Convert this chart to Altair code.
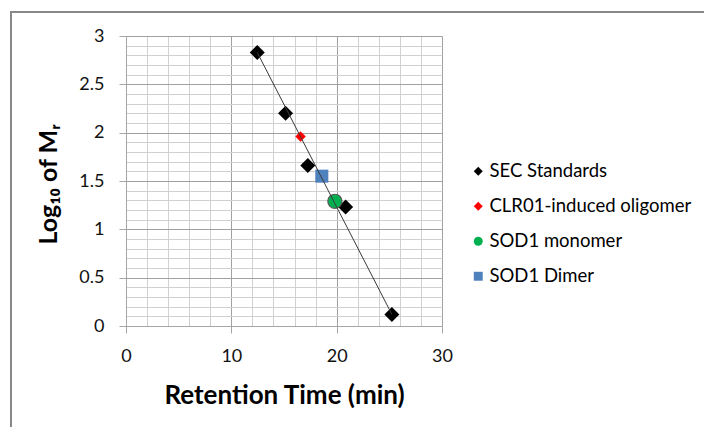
import altair as alt
import pandas as pd

# ---- data ----
series_names = ["SEC Standards", "CLR01-induced oligomer", "SOD1 monomer", "SOD1 Dimer"]
series_colors = ["#000000", "#ff0000", "#00b050", "#4f81bd"]
series_shapes = ["diamond", "diamond", "circle", "square"]

sec_time = [12.46, 15.15, 17.26, 20.85, 25.24]
sec_log = [2.83, 2.20, 1.66, 1.23, 0.12]
clr_time = [16.57]
clr_log = [1.96]
mono_time = [19.83]
mono_log = [1.29]
dimer_time = [18.59]
dimer_log = [1.55]
trend_time = [12.46, 25.24]
trend_log = [2.83, 0.12]

x_ticks = list(range(0, 31, 2))
y_ticks = [round(i * 0.1, 1) for i in range(31)]

FONT = "Lato"

series_data = [
    (series_names[0], sec_time, sec_log, 225),
    (series_names[1], clr_time, clr_log, 110),
    (series_names[2], mono_time, mono_log, 200),
    (series_names[3], dimer_time, dimer_log, 170),
]

x_major = "datum.value % 10 === 0"
y_major = "round(datum.value * 10) % 5 === 0"

x_enc = alt.X(
    "time:Q",
    scale=alt.Scale(domain=[0, 30], nice=False),
    axis=alt.Axis(
        values=x_ticks,
        tickCount=len(x_ticks) + 5,
        format="~g",
        title="Retention Time (min)",
        labelExpr=f"{x_major} ? datum.label : ''",
        labelOverlap=False,
        labelFlush=False,
        labelFont=FONT,
        labelFontSize=18,
        labelColor="#111111",
        labelPadding=14,
        tickSize=7,
        tickColor="#a6a6a6",
        tickOpacity={"condition": {"test": x_major, "value": 1}, "value": 0},
        gridColor={"condition": {"test": x_major, "value": "#a0a0a0"}, "value": "#d0d0d0"},
        gridWidth=1,
        domainColor="#a6a6a6",
        titleFont=FONT,
        titleFontSize=26,
        titleFontWeight="bold",
        titleColor="#000000",
        titleY=69,
        titleBaseline="middle",
    ),
)
y_enc = alt.Y(
    "logm:Q",
    scale=alt.Scale(domain=[0, 3], nice=False),
    axis=alt.Axis(
        values=y_ticks,
        tickCount=len(y_ticks) + 5,
        format="~g",
        title="Log₁₀ of Mᵣ",
        labelExpr=f"{y_major} ? datum.label : ''",
        labelOverlap=False,
        labelFlush=False,
        labelFont=FONT,
        labelFontSize=18,
        labelColor="#111111",
        labelPadding=15,
        tickSize=7,
        tickColor="#a6a6a6",
        tickOpacity={"condition": {"test": y_major, "value": 1}, "value": 0},
        gridColor={"condition": {"test": y_major, "value": "#a0a0a0"}, "value": "#d0d0d0"},
        gridWidth=1,
        domainColor="#a6a6a6",
        titleFont=FONT,
        titleFontSize=25,
        titleFontWeight="bold",
        titleColor="#000000",
        titleX=-78,
        titleY=148,
        titleBaseline="middle",
    ),
)

color_enc = alt.Color(
    "series:N",
    scale=alt.Scale(domain=series_names, range=series_colors),
    legend=alt.Legend(
        title=None,
        orient="none",
        legendX=343,
        legendY=126,
        labelFont=FONT,
        labelFontSize=18.5,
        labelColor="#000000",
        symbolSize=80,
        symbolStrokeWidth=0,
        rowPadding=16,
        labelOffset=2,
        labelLimit=400,
    ),
)
shape_enc = alt.Shape("series:N", scale=alt.Scale(domain=series_names, range=series_shapes))

layers = []
for name, xs, ys, sz in series_data:
    df = pd.DataFrame({"time": xs, "logm": ys, "series": [name] * len(xs)})
    stroke = "#595959" if name == "SOD1 monomer" else None
    mk = alt.Chart(df).mark_point(filled=True, opacity=1, size=sz,
                                  **({"stroke": stroke, "strokeWidth": 1.2} if stroke else {}))
    layers.append(mk.encode(x=x_enc, y=y_enc, color=color_enc, shape=shape_enc))

trend_df = pd.DataFrame({"time": trend_time, "logm": trend_log})
trend = alt.Chart(trend_df).mark_line(color="#3a3a3a", strokeWidth=1).encode(x="time:Q", y="logm:Q")

dummy = pd.DataFrame({"a": [0]})
frame_left = alt.Chart(dummy).mark_rule(color="#888888", strokeWidth=2).encode(
    x=alt.value(-115), y=alt.value(-24), y2=alt.value(420))
frame_top = alt.Chart(dummy).mark_rule(color="#888888", strokeWidth=2).encode(
    x=alt.value(-116), x2=alt.value(700), y=alt.value(-24))

chart = alt.layer(*layers, trend, frame_left, frame_top).properties(
    width=316,
    height=290,
    padding={"left": 126, "top": 36, "right": 262, "bottom": 101},
    autosize=alt.AutoSizeParams(type="none"),
    background="white",
).configure_view(stroke=None)

chart.save("out.html", embed_options={"renderer": "svg", "actions": False})
